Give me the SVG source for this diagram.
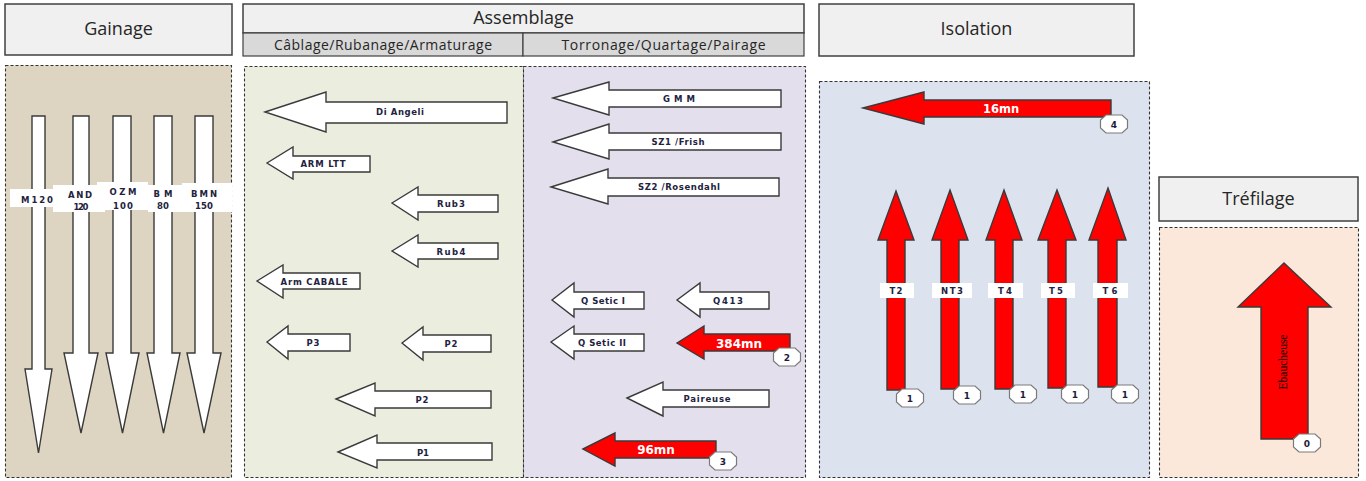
<svg xmlns="http://www.w3.org/2000/svg" xmlns:xlink="http://www.w3.org/1999/xlink" width="1366" height="481" viewBox="0 0 1366 481">
  <style>
    .hdr { fill: #f0f0f0; stroke: #404040; stroke-width: 1.5; }
    .sub { fill: #d9d9d9; stroke: #404040; stroke-width: 1.2; }
    .panel { stroke: #333333; stroke-width: 1.1; stroke-dasharray: 3 2; }
    .wa { fill: #ffffff; stroke: #3a3a3a; stroke-width: 1.4; }
    .ra { fill: #ff0000; stroke: #3a3a3a; stroke-width: 1.4; }
    .box { fill: #ffffff; }
    .ttl { font-family: "Open Sans", "DejaVu Sans", sans-serif; font-size: 18px; fill: #262626; text-anchor: middle; }
    .subt { font-family: "Open Sans", "DejaVu Sans", sans-serif; font-size: 14px; fill: #262626; text-anchor: middle; }
    .lbl { font-family: "DejaVu Sans", sans-serif; font-weight: bold; font-size: 8.5px; fill: #22223e; text-anchor: middle; }
    .rl { font-family: "DejaVu Sans", sans-serif; font-weight: bold; font-size: 12px; fill: #ffffff; text-anchor: middle; }
    .badge { fill: #ffffff; stroke: #7a7a7a; stroke-width: 1.2; }
    .bt { font-family: "DejaVu Sans", sans-serif; font-weight: bold; font-size: 9px; fill: #1c1c3c; text-anchor: middle; }
    .vt { font-family: "Liberation Serif", serif; font-size: 11.5px; fill: #000000; text-anchor: middle; }
  </style>
  <defs>
    <polygon id="oct" points="-8,-9 8,-9 13.5,-4 13.5,4 8,9 -8,9 -13.5,4 -13.5,-4"/>
  </defs>

  <!-- section headers -->
  <g id="header-gainage">
    <rect class="hdr" x="5" y="4" width="227" height="51"/>
    <text class="ttl" x="118.5" y="35">Gainage</text>
  </g>
  <g id="header-assemblage">
    <rect class="hdr" x="243" y="4" width="561" height="29"/>
    <text class="ttl" x="523.5" y="24">Assemblage</text>
    <rect class="sub" x="243" y="33" width="280" height="23"/>
    <rect class="sub" x="523" y="33" width="281" height="23"/>
    <text class="subt" x="383" y="49.5" textLength="218">Câblage/Rubanage/Armaturage</text>
    <text class="subt" x="663.5" y="49.5" textLength="204">Torronage/Quartage/Pairage</text>
  </g>
  <g id="header-isolation">
    <rect class="hdr" x="819" y="4" width="315" height="52"/>
    <text class="ttl" x="976.5" y="35">Isolation</text>
  </g>
  <g id="header-trefilage">
    <rect class="hdr" x="1159" y="177" width="199" height="44"/>
    <text class="ttl" x="1258.5" y="205">Tréfilage</text>
  </g>

  <!-- section backgrounds -->
  <rect id="panel-gainage" class="panel" x="5.5" y="65.5" width="226" height="412" fill="#ddd5c1"/>
  <rect id="panel-cablage" class="panel" x="244.5" y="66.5" width="279" height="411" fill="#ebeedf"/>
  <rect id="panel-torronage" class="panel" x="523.5" y="66.5" width="282" height="411" fill="#e4dfec"/>
  <rect id="panel-isolation" class="panel" x="819.5" y="81.5" width="330" height="396" fill="#dce3ef"/>
  <rect id="panel-trefilage" class="panel" x="1159.5" y="227.5" width="199" height="250" fill="#fbe8da"/>

  <!-- Gainage lines -->
  <g id="m120">
    <path class="wa" d="M32 116 L45 116 L45 369 L52 369 L38.5 453 L25 369 L32 369 Z"/>
    <rect class="box" x="10" y="189" width="50" height="18"/>
    <text class="lbl" x="37" y="203" textLength="32">M120</text>
  </g>
  <g id="and120">
    <path class="wa" d="M73 116 L89 116 L89 353 L98 353 L81 433 L64 353 L73 353 Z"/>
    <rect class="box" x="53" y="185" width="52" height="27"/>
    <text class="lbl" x="80" y="197.5" textLength="24">AND</text>
    <text class="lbl" x="81" y="209.5" textLength="15">120</text>
  </g>
  <g id="ozm100">
    <path class="wa" d="M113 116 L131 116 L131 353 L139 353 L122.5 433 L106 353 L113 353 Z"/>
    <rect class="box" x="97" y="182" width="51" height="28"/>
    <text class="lbl" x="123" y="195" textLength="27">OZM</text>
    <text class="lbl" x="123" y="208.5" textLength="20">100</text>
  </g>
  <g id="bm80">
    <path class="wa" d="M154 116 L172 116 L172 353 L180 353 L163.5 433 L147 353 L154 353 Z"/>
    <rect class="box" x="148" y="185" width="34" height="27"/>
    <text class="lbl" x="163" y="196.5" textLength="19">BM</text>
    <text class="lbl" x="163" y="208.5" textLength="12">80</text>
  </g>
  <g id="bmn150">
    <path class="wa" d="M195 116 L213 116 L213 353 L221 353 L204 433 L187 353 L195 353 Z"/>
    <rect class="box" x="182" y="183" width="50" height="29"/>
    <text class="lbl" x="204" y="196.5" textLength="26">BMN</text>
    <text class="lbl" x="204" y="208.5" textLength="18">150</text>
  </g>

  <!-- Câblage / Rubanage / Armaturage lines -->
  <g id="di-angeli">
    <path class="wa" d="M265 112 L326 92 L326 102 L507 102 L507 123 L326 123 L326 132 Z"/>
    <text class="lbl" x="400" y="115" textLength="48">Di Angeli</text>
  </g>
  <g id="arm-ltt">
    <path class="wa" d="M267 163 L293 147 L293 156 L370 156 L370 172 L293 172 L293 179 Z"/>
    <text class="lbl" x="323" y="166.5" textLength="45">ARM LTT</text>
  </g>
  <g id="rub3">
    <path class="wa" d="M392 203 L418 187 L418 195 L498 195 L498 212 L418 212 L418 220 Z"/>
    <text class="lbl" x="451" y="206.5" textLength="28">Rub3</text>
  </g>
  <g id="rub4">
    <path class="wa" d="M392 251 L418 235 L418 243 L498 243 L498 259 L418 259 L418 267 Z"/>
    <text class="lbl" x="451" y="254.5" textLength="29">Rub4</text>
  </g>
  <g id="arm-cabale">
    <path class="wa" d="M257 281 L283 265 L283 273 L360 273 L360 289 L283 289 L283 298 Z"/>
    <text class="lbl" x="314" y="284.5" textLength="67">Arm CABALE</text>
  </g>
  <g id="p3">
    <path class="wa" d="M267 342 L288 326 L288 334 L350 334 L350 351 L288 351 L288 359 Z"/>
    <text class="lbl" x="313" y="345.5" textLength="13">P3</text>
  </g>
  <g id="p2-short">
    <path class="wa" d="M402 343 L423 327 L423 335 L491 335 L491 352 L423 352 L423 360 Z"/>
    <text class="lbl" x="451" y="346.5" textLength="13">P2</text>
  </g>
  <g id="p2-long">
    <path class="wa" d="M336 399 L375 383 L375 391 L491 391 L491 408 L375 408 L375 416 Z"/>
    <text class="lbl" x="422" y="402.5" textLength="13">P2</text>
  </g>
  <g id="p1">
    <path class="wa" d="M338 452 L377 435 L377 443 L492 443 L492 460 L377 460 L377 468 Z"/>
    <text class="lbl" x="423" y="455.5" textLength="12">P1</text>
  </g>

  <!-- Torronage / Quartage / Pairage lines -->
  <g id="gmm">
    <path class="wa" d="M553 98 L609 82 L609 90 L781 90 L781 107 L609 107 L609 115 Z"/>
    <text class="lbl" x="679" y="101.5" textLength="32">GMM</text>
  </g>
  <g id="sz1-frish">
    <path class="wa" d="M553 142 L609 124 L609 133 L781 133 L781 150 L609 150 L609 159 Z"/>
    <text class="lbl" x="678" y="145" textLength="53">SZ1 /Frish</text>
  </g>
  <g id="sz2-rosendahl">
    <path class="wa" d="M551 187 L608 169 L608 178 L779 178 L779 196 L608 196 L608 204 Z"/>
    <text class="lbl" x="679" y="190" textLength="82">SZ2 /Rosendahl</text>
  </g>
  <g id="q-setic-1">
    <path class="wa" d="M552 300 L574 283 L574 292 L644 292 L644 309 L574 309 L574 317 Z"/>
    <text class="lbl" x="603" y="303.5" textLength="44">Q Setic I</text>
  </g>
  <g id="q413">
    <path class="wa" d="M677 300 L700 283 L700 292 L769 292 L769 309 L700 309 L700 317 Z"/>
    <text class="lbl" x="728" y="303.5" textLength="30">Q413</text>
  </g>
  <g id="q-setic-2">
    <path class="wa" d="M551 342 L574 326 L574 334 L644 334 L644 351 L574 351 L574 359 Z"/>
    <text class="lbl" x="602" y="345.5" textLength="48">Q Setic II</text>
  </g>
  <g id="step-2">
    <path class="ra" d="M677 343 L704 326 L704 334 L790 334 L790 351 L704 351 L704 359 Z"/>
    <text class="rl" x="739" y="347.5">384mn</text>
    <use href="#oct" class="badge" x="787" y="357"/>
    <text class="bt" x="787" y="360.5">2</text>
  </g>
  <g id="paireuse">
    <path class="wa" d="M627 398 L663 382 L663 390 L769 390 L769 407 L663 407 L663 416 Z"/>
    <text class="lbl" x="707" y="401.5" textLength="47">Paireuse</text>
  </g>
  <g id="step-3">
    <path class="ra" d="M583 449 L615 433 L615 441 L716 441 L716 458 L615 458 L615 466 Z"/>
    <text class="rl" x="656" y="453.5">96mn</text>
    <use href="#oct" class="badge" x="723" y="461"/>
    <text class="bt" x="723" y="464.5">3</text>
  </g>

  <!-- Isolation lines -->
  <g id="step-4">
    <path class="ra" d="M863 108 L924 92 L924 100 L1111 100 L1111 117 L924 117 L924 124 Z"/>
    <text class="rl" x="1001" y="113" style="font-size:11.5px">16mn</text>
    <use href="#oct" class="badge" x="1114" y="124"/>
    <text class="bt" x="1114" y="127.5">4</text>
  </g>
  <g id="t2">
    <path class="ra" d="M896 191 L914 240 L905 240 L905 390 L887 390 L887 240 L878 240 Z"/>
    <rect class="box" x="880" y="283" width="34" height="15"/>
    <text class="lbl" x="896" y="294" textLength="13">T2</text>
    <use href="#oct" class="badge" x="910" y="398"/>
    <text class="bt" x="910" y="401.5">1</text>
  </g>
  <g id="nt3">
    <path class="ra" d="M950 190 L968 240 L959 240 L959 389 L941 389 L941 240 L932 240 Z"/>
    <rect class="box" x="932" y="283" width="40" height="15"/>
    <text class="lbl" x="952" y="294" textLength="22">NT3</text>
    <use href="#oct" class="badge" x="967" y="395"/>
    <text class="bt" x="967" y="398.5">1</text>
  </g>
  <g id="t4">
    <path class="ra" d="M1004 190 L1022 240 L1013 240 L1013 389 L995 389 L995 240 L986 240 Z"/>
    <rect class="box" x="988" y="283" width="35" height="15"/>
    <text class="lbl" x="1005" y="294" textLength="14">T4</text>
    <use href="#oct" class="badge" x="1023" y="394"/>
    <text class="bt" x="1023" y="397.5">1</text>
  </g>
  <g id="t5">
    <path class="ra" d="M1057 190 L1076 240 L1066 240 L1066 388 L1048 388 L1048 240 L1038 240 Z"/>
    <rect class="box" x="1041" y="283" width="34" height="15"/>
    <text class="lbl" x="1056" y="294" textLength="14">T5</text>
    <use href="#oct" class="badge" x="1075" y="394"/>
    <text class="bt" x="1075" y="397.5">1</text>
  </g>
  <g id="t6">
    <path class="ra" d="M1108 188 L1126 240 L1117 240 L1117 387 L1098 387 L1098 240 L1089 240 Z"/>
    <rect class="box" x="1093" y="283" width="35" height="15"/>
    <text class="lbl" x="1110" y="294" textLength="15">T6</text>
    <use href="#oct" class="badge" x="1125" y="394"/>
    <text class="bt" x="1125" y="397.5">1</text>
  </g>

  <!-- Tréfilage line -->
  <g id="ebaucheuse">
    <path class="ra" d="M1284 263 L1331 307 L1308 307 L1308 439 L1261 439 L1261 307 L1238 307 Z"/>
    <text class="vt" transform="translate(1287 362) rotate(-90)">Ebaucheuse</text>
    <use href="#oct" class="badge" x="1307" y="443"/>
    <text class="bt" x="1307" y="446.5">0</text>
  </g>

  <!-- no connectors: every flow is drawn as a block arrow -->
  <g id="connectors"/>
</svg>
